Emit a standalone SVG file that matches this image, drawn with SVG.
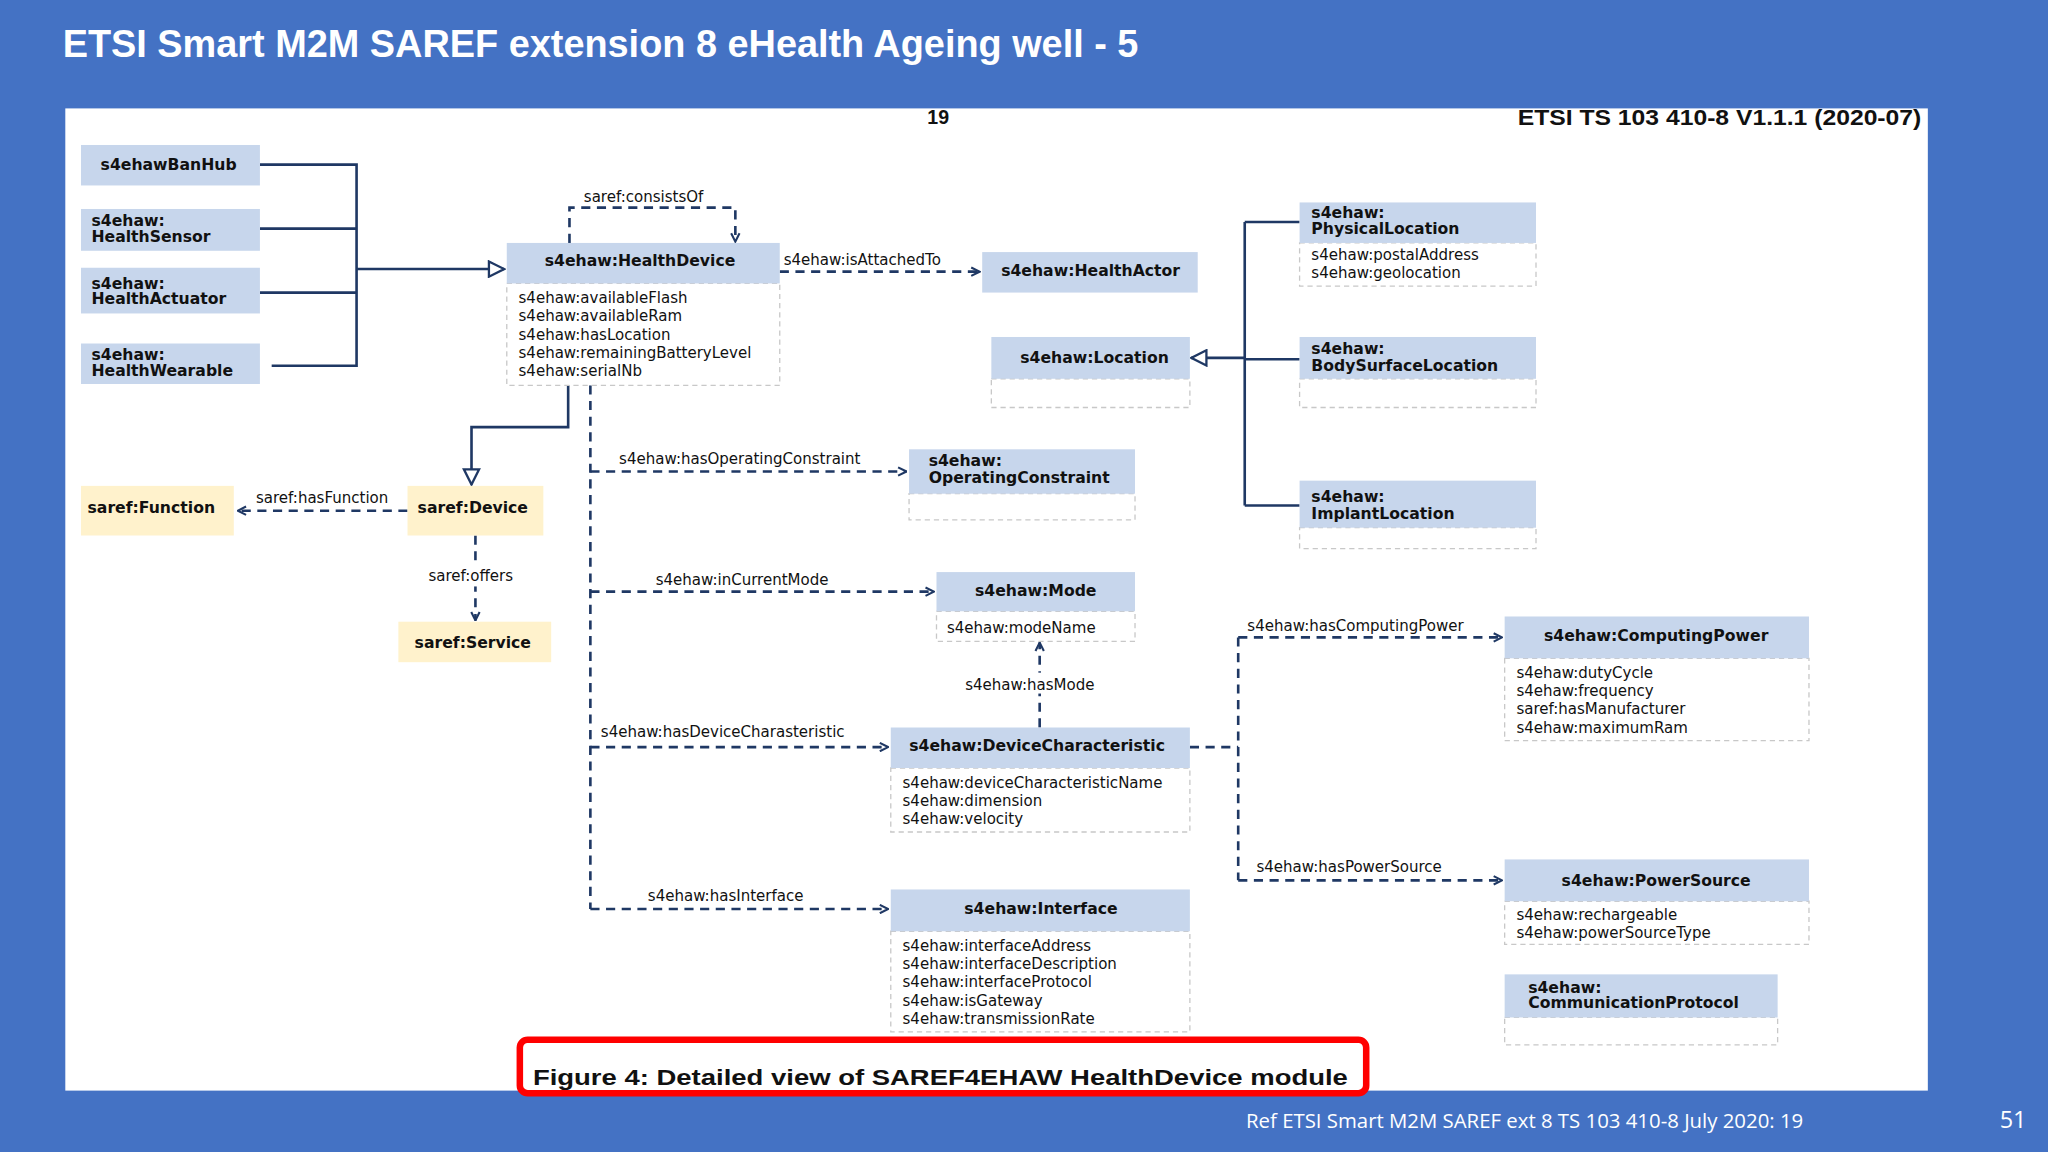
<svg xmlns="http://www.w3.org/2000/svg" width="2048" height="1152" viewBox="0 0 2048 1152">
<style>
.h{fill:#C7D6EC}
.b{fill:#fff;stroke:#C8C8C8;stroke-width:1;stroke-dasharray:4 3}
.y{fill:#FFF2CC}
.t{font-family:"DejaVu Sans",Verdana,sans-serif;font-weight:bold;font-size:12px;fill:#111}
.a{font-family:"DejaVu Sans",Verdana,sans-serif;font-size:11.5px;fill:#111}
.l{font-family:"DejaVu Sans",Verdana,sans-serif;font-size:11.5px;fill:#111}
.s{fill:none;stroke:#1F3864;stroke-width:2}
.d{fill:none;stroke:#1F3864;stroke-width:2;stroke-dasharray:7 5}
</style>
<defs>
<marker id="o" viewBox="0 0 10 10" refX="9" refY="5" markerWidth="8" markerHeight="8" markerUnits="userSpaceOnUse" orient="auto"><path d="M1,1 L9,5 L1,9" fill="none" stroke="#1F3864" stroke-width="2"/></marker>
<marker id="tri" viewBox="0 0 12 12" refX="11" refY="6" markerWidth="14" markerHeight="14" markerUnits="userSpaceOnUse" orient="auto"><path d="M1,1 L11,6 L1,11 Z" fill="#fff" stroke="#1F3864" stroke-width="1.5"/></marker>
</defs>
<rect width="2048" height="1152" fill="#4472C4"/>
<g transform="scale(1.30612)">
<text x="48" y="44" font-family="Liberation Sans,Arial,sans-serif" font-weight="bold" font-size="29" fill="#fff">ETSI Smart M2M SAREF extension 8 eHealth Ageing well - 5</text>
<rect x="50" y="83" width="1426" height="752" fill="#fff"/>
<text x="710" y="95" font-family="Liberation Sans,Arial,sans-serif" font-weight="bold" font-size="15" fill="#111">19</text>
<text x="1471" y="96" text-anchor="end" font-family="Liberation Sans,Arial,sans-serif" font-weight="bold" font-size="17" fill="#111" textLength="309" lengthAdjust="spacingAndGlyphs">ETSI TS 103 410-8 V1.1.1 (2020-07)</text>
<text x="954" y="864" font-family="Open Sans,Liberation Sans,sans-serif" font-size="15.6" fill="#fff">Ref ETSI Smart M2M SAREF ext 8 TS 103 410-8 July 2020: 19</text>
<text x="1531" y="864" font-family="Open Sans,Liberation Sans,sans-serif" font-size="18" fill="#fff">51</text>

<g id="connectors">
<path class="s" d="M199,126 H273 V280 H208 M199,175 H273 M199,224 H273"/>
<path class="s" d="M273,206 H386" marker-end="url(#tri)"/>
<path class="d" d="M436,186 V159 H563 V185" marker-end="url(#o)"/>
<path class="d" d="M597,208 H750" marker-end="url(#o)"/>
<path class="s" d="M953,170 V387 M953,170 H995 M953,275 H995 M953,387 H995"/>
<path class="s" d="M953,274 H912" marker-end="url(#tri)"/>
<path class="s" d="M435,295 V327 H361 V371" marker-end="url(#tri)"/>
<path class="d" d="M312,391 H182" marker-end="url(#o)"/>
<path class="d" d="M364,410 V475" marker-end="url(#o)"/>
<path class="d" d="M452,295 V696"/>
<path class="d" d="M452,361 H694" marker-end="url(#o)"/>
<path class="d" d="M452,453 H715" marker-end="url(#o)"/>
<path class="d" d="M452,572 H680" marker-end="url(#o)"/>
<path class="d" d="M452,696 H680" marker-end="url(#o)"/>
<path class="d" d="M796,557 V492" marker-end="url(#o)"/>
<path class="d" d="M911,572 H948 M948,488 V674"/>
<path class="d" d="M948,488 H1150" marker-end="url(#o)"/>
<path class="d" d="M948,674 H1150" marker-end="url(#o)"/>
<rect x="734" y="515" width="124" height="16" fill="#fff"/>
<rect x="326" y="433" width="76" height="16" fill="#fff"/>
<text class="l" x="447" y="155">saref:consistsOf</text>
<text class="l" x="600" y="203">s4ehaw:isAttachedTo</text>
<text class="l" x="196" y="385">saref:hasFunction</text>
<text class="l" x="328" y="445">saref:offers</text>
<text class="l" x="474" y="355">s4ehaw:hasOperatingConstraint</text>
<text class="l" x="502" y="448">s4ehaw:inCurrentMode</text>
<text class="l" x="739" y="528">s4ehaw:hasMode</text>
<text class="l" x="460" y="564">s4ehaw:hasDeviceCharasteristic</text>
<text class="l" x="496" y="690">s4ehaw:hasInterface</text>
<text class="l" x="955" y="483">s4ehaw:hasComputingPower</text>
<text class="l" x="962" y="668">s4ehaw:hasPowerSource</text>
</g>

<g id="banhub"><rect class="h" x="62" y="111" width="137" height="31"/><text class="t" x="77" y="130">s4ehawBanHub</text></g>
<g id="sensor"><rect class="h" x="62" y="160" width="137" height="32"/><text class="t" x="70" y="173">s4ehaw:</text><text class="t" x="70" y="185">HealthSensor</text></g>
<g id="actuator"><rect class="h" x="62" y="205" width="137" height="35"/><text class="t" x="70" y="221">s4ehaw:</text><text class="t" x="70" y="233">HealthActuator</text></g>
<g id="wearable"><rect class="h" x="62" y="263" width="137" height="31"/><text class="t" x="70" y="276">s4ehaw:</text><text class="t" x="70" y="288">HealthWearable</text></g>

<g id="healthdevice"><rect class="b" x="388" y="217" width="209" height="78"/><rect class="h" x="388" y="186" width="209" height="31"/>
<text class="t" x="490" y="204" text-anchor="middle">s4ehaw:HealthDevice</text>
<text class="a" x="397" y="232">s4ehaw:availableFlash</text><text class="a" x="397" y="246">s4ehaw:availableRam</text><text class="a" x="397" y="260">s4ehaw:hasLocation</text><text class="a" x="397" y="274">s4ehaw:remainingBatteryLevel</text><text class="a" x="397" y="288">s4ehaw:serialNb</text></g>

<g id="healthactor"><rect class="h" x="752" y="193" width="165" height="31"/><text class="t" x="835" y="211" text-anchor="middle">s4ehaw:HealthActor</text></g>
<g id="location"><rect class="b" x="759" y="290" width="152" height="22"/><rect class="h" x="759" y="258" width="152" height="32"/><text class="t" x="838" y="278" text-anchor="middle">s4ehaw:Location</text></g>
<g id="physloc"><rect class="b" x="995" y="186" width="181" height="33"/><rect class="h" x="995" y="155" width="181" height="31"/><text class="t" x="1004" y="167">s4ehaw:</text><text class="t" x="1004" y="179">PhysicalLocation</text><text class="a" x="1004" y="199">s4ehaw:postalAddress</text><text class="a" x="1004" y="213">s4ehaw:geolocation</text></g>
<g id="bodyloc"><rect class="b" x="995" y="290" width="181" height="22"/><rect class="h" x="995" y="258" width="181" height="32"/><text class="t" x="1004" y="271">s4ehaw:</text><text class="t" x="1004" y="284">BodySurfaceLocation</text></g>
<g id="implloc"><rect class="b" x="995" y="404" width="181" height="16"/><rect class="h" x="995" y="368" width="181" height="36"/><text class="t" x="1004" y="384">s4ehaw:</text><text class="t" x="1004" y="397">ImplantLocation</text></g>

<g id="function"><rect class="y" x="62" y="372" width="117" height="38"/><text class="t" x="67" y="393">saref:Function</text></g>
<g id="device"><rect class="y" x="312" y="372" width="104" height="38"/><text class="t" x="362" y="393" text-anchor="middle">saref:Device</text></g>
<g id="service"><rect class="y" x="305" y="476" width="117" height="31"/><text class="t" x="362" y="496" text-anchor="middle">saref:Service</text></g>

<g id="opconstraint"><rect class="b" x="696" y="378" width="173" height="20"/><rect class="h" x="696" y="344" width="173" height="34"/><text class="t" x="711" y="357">s4ehaw:</text><text class="t" x="711" y="370">OperatingConstraint</text></g>
<g id="mode"><rect class="b" x="717" y="468" width="152" height="23"/><rect class="h" x="717" y="438" width="152" height="30"/><text class="t" x="793" y="456" text-anchor="middle">s4ehaw:Mode</text><text class="a" x="725" y="485">s4ehaw:modeName</text></g>
<g id="devchar"><rect class="b" x="682" y="588" width="229" height="49"/><rect class="h" x="682" y="557" width="229" height="31"/><text class="t" x="794" y="575" text-anchor="middle">s4ehaw:DeviceCharacteristic</text><text class="a" x="691" y="603">s4ehaw:deviceCharacteristicName</text><text class="a" x="691" y="617">s4ehaw:dimension</text><text class="a" x="691" y="631">s4ehaw:velocity</text></g>
<g id="interface"><rect class="b" x="682" y="713" width="229" height="77"/><rect class="h" x="682" y="681" width="229" height="32"/><text class="t" x="797" y="700" text-anchor="middle">s4ehaw:Interface</text><text class="a" x="691" y="728">s4ehaw:interfaceAddress</text><text class="a" x="691" y="742">s4ehaw:interfaceDescription</text><text class="a" x="691" y="756">s4ehaw:interfaceProtocol</text><text class="a" x="691" y="770">s4ehaw:isGateway</text><text class="a" x="691" y="784">s4ehaw:transmissionRate</text></g>
<g id="computing"><rect class="b" x="1152" y="504" width="233" height="63"/><rect class="h" x="1152" y="472" width="233" height="32"/><text class="t" x="1268" y="491" text-anchor="middle">s4ehaw:ComputingPower</text><text class="a" x="1161" y="519">s4ehaw:dutyCycle</text><text class="a" x="1161" y="533">s4ehaw:frequency</text><text class="a" x="1161" y="547">saref:hasManufacturer</text><text class="a" x="1161" y="561">s4ehaw:maximumRam</text></g>
<g id="power"><rect class="b" x="1152" y="690" width="233" height="33"/><rect class="h" x="1152" y="658" width="233" height="32"/><text class="t" x="1268" y="678" text-anchor="middle">s4ehaw:PowerSource</text><text class="a" x="1161" y="704">s4ehaw:rechargeable</text><text class="a" x="1161" y="718">s4ehaw:powerSourceType</text></g>
<g id="commproto"><rect class="b" x="1152" y="779" width="209" height="21"/><rect class="h" x="1152" y="746" width="209" height="33"/><text class="t" x="1170" y="760">s4ehaw:</text><text class="t" x="1170" y="772">CommunicationProtocol</text></g>

<g id="caption"><rect x="398" y="796" width="648" height="41" rx="6" fill="none" stroke="#FF0000" stroke-width="5"/><text x="408" y="831" font-family="Liberation Sans,Arial,sans-serif" font-weight="bold" font-size="17" fill="#111" textLength="624" lengthAdjust="spacingAndGlyphs">Figure 4: Detailed view of SAREF4EHAW HealthDevice module</text></g>
</g>
</svg>
